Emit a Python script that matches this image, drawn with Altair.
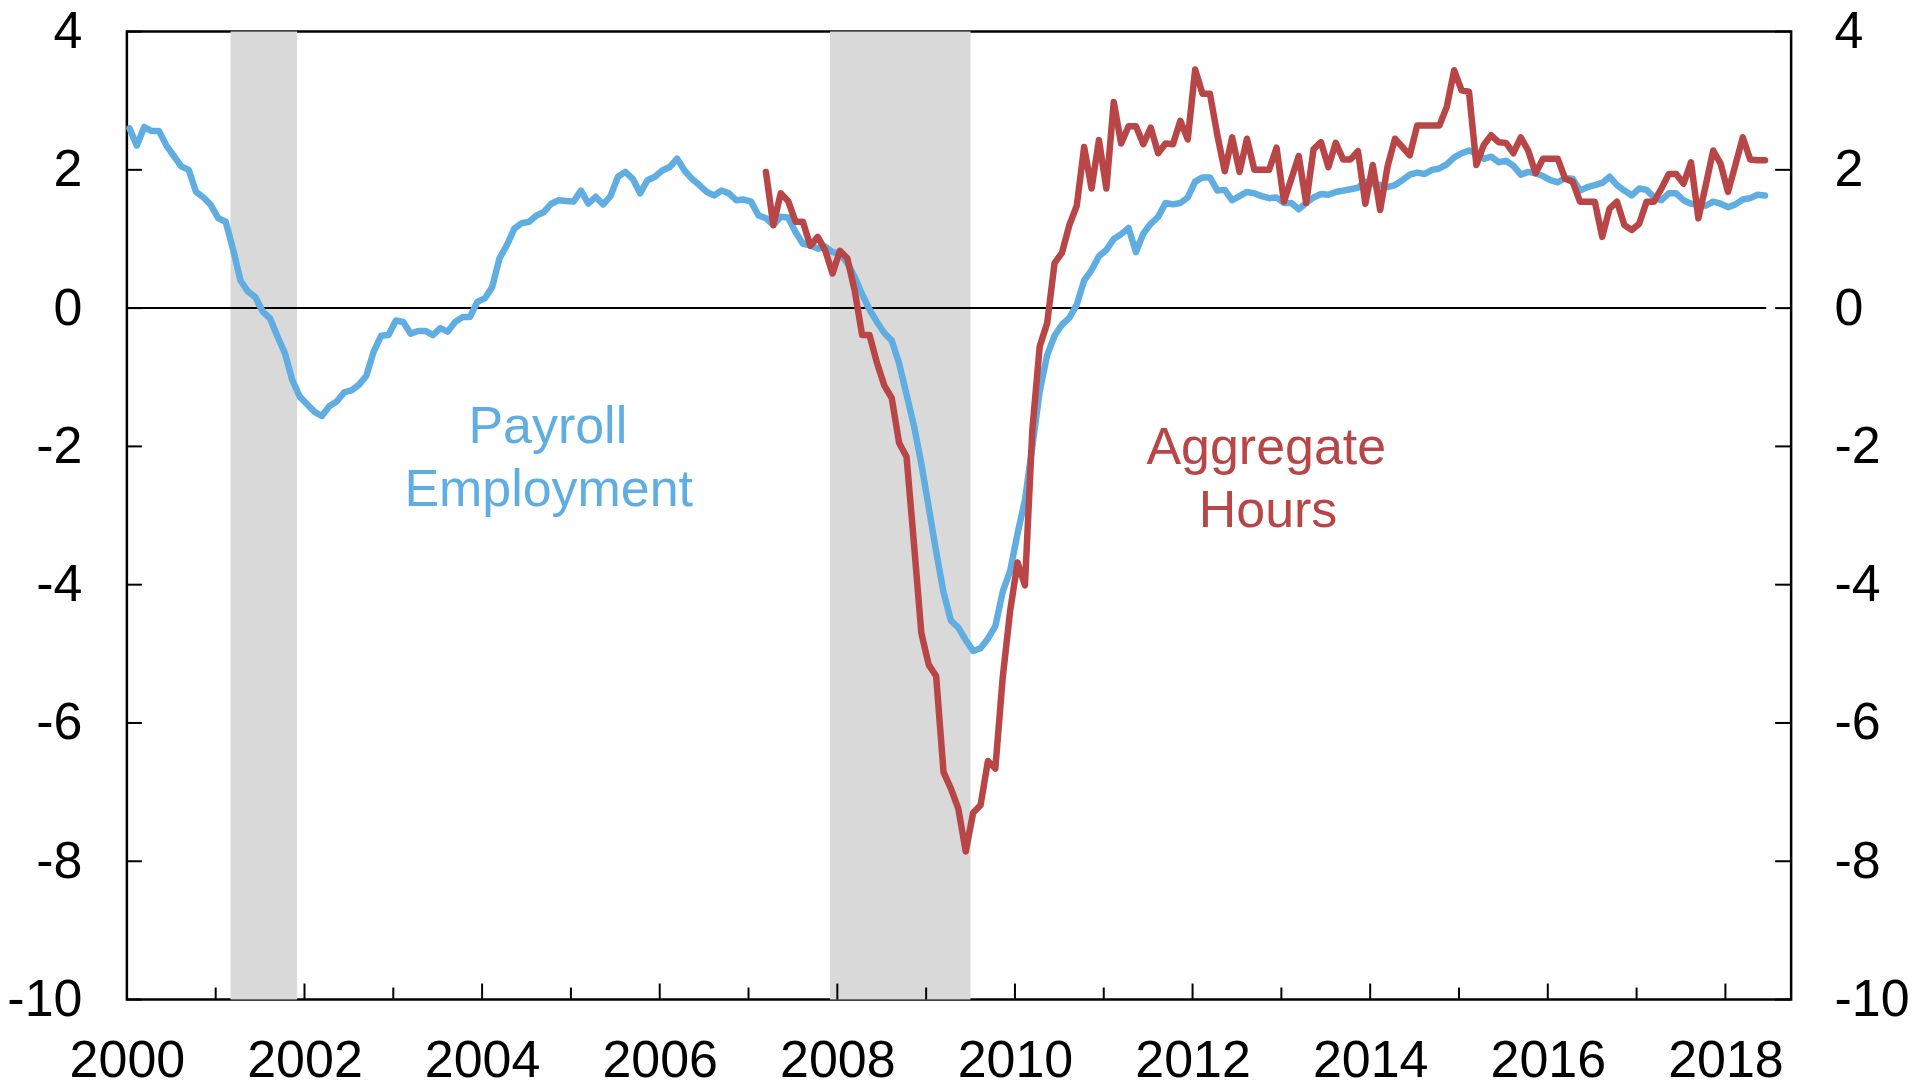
import altair as alt
import pandas as pd

# Payroll employment, 12-month % change, monthly Jan 2000 - Jun 2018
payroll = [
    2.6, 2.35, 2.62, 2.56, 2.56, 2.35, 2.2, 2.05, 2.0, 1.68, 1.6, 1.49,
    1.3, 1.25, 0.85, 0.4, 0.24, 0.16, -0.05, -0.15, -0.41, -0.65, -1.04, -1.28,
    -1.39, -1.5, -1.56, -1.42, -1.35, -1.22, -1.19, -1.11, -0.98, -0.63, -0.4, -0.39,
    -0.18, -0.2, -0.37, -0.33, -0.33, -0.39, -0.29, -0.34, -0.2, -0.13, -0.13, 0.09,
    0.14, 0.3, 0.72, 0.91, 1.15, 1.23, 1.25, 1.34, 1.39, 1.51, 1.56, 1.55,
    1.54, 1.7, 1.51, 1.61, 1.5, 1.62, 1.9, 1.97, 1.87, 1.66, 1.85, 1.9,
    1.99, 2.04, 2.16, 1.99, 1.87, 1.78, 1.68, 1.63, 1.7, 1.66, 1.56, 1.57,
    1.54, 1.34, 1.3, 1.2, 1.32, 1.31, 1.1, 0.93, 0.91, 0.86, 0.89, 0.81,
    0.79, 0.65, 0.45, 0.2, -0.02, -0.2, -0.36, -0.47, -0.8, -1.25, -1.7, -2.25,
    -2.88, -3.52, -4.11, -4.52, -4.62, -4.8, -4.96, -4.92, -4.78, -4.6, -4.1, -3.8,
    -3.26, -2.78, -2.0, -1.2, -0.68, -0.4, -0.24, -0.14, 0.05, 0.4, 0.55, 0.75,
    0.84, 1.0, 1.07, 1.16, 0.81, 1.08, 1.22, 1.32, 1.52, 1.5, 1.52, 1.6,
    1.83, 1.89, 1.89, 1.7, 1.71, 1.56, 1.62, 1.68, 1.66, 1.62, 1.59, 1.6,
    1.52, 1.52, 1.43, 1.52, 1.6, 1.65, 1.64, 1.68, 1.7, 1.72, 1.74, 1.83,
    1.8, 1.78, 1.75, 1.78, 1.85, 1.93, 1.96, 1.94, 2.0, 2.02, 2.08, 2.18,
    2.24, 2.28, 2.24, 2.16, 2.19, 2.11, 2.13, 2.06, 1.93, 1.97, 1.95, 1.91,
    1.85, 1.82, 1.88, 1.87, 1.7, 1.75, 1.78, 1.81, 1.9, 1.78, 1.7, 1.63,
    1.73, 1.71, 1.6, 1.56, 1.66, 1.66, 1.56, 1.51, 1.5, 1.48, 1.54, 1.51,
    1.46, 1.5, 1.57, 1.59, 1.64, 1.63,
]

# Aggregate hours, 12-month % change, monthly Mar 2007 - Jun 2018
hours = [
    1.97, 1.2, 1.66, 1.55, 1.25, 1.25, 0.9, 1.03, 0.84, 0.5,
    0.83, 0.72, 0.25, -0.39, -0.39, -0.79, -1.12, -1.3, -1.95, -2.15, -3.4, -4.7,
    -5.16, -5.32, -6.71, -6.95, -7.24, -7.86, -7.3, -7.19, -6.55, -6.66, -5.34, -4.38,
    -3.68, -4.01, -1.76, -0.55, -0.22, 0.65, 0.8, 1.2, 1.48, 2.33, 1.73, 2.43,
    1.73, 2.98, 2.38, 2.63, 2.63, 2.37, 2.61, 2.24, 2.38, 2.37, 2.71, 2.44,
    3.45, 3.1, 3.1, 2.5, 1.98, 2.47, 1.97, 2.45, 2.0, 2.0, 2.0, 2.32,
    1.54, 1.87, 2.2, 1.52, 2.3, 2.4, 2.04, 2.39, 2.15, 2.15, 2.27, 1.51,
    2.07, 1.42, 2.05, 2.45, 2.33, 2.21, 2.64, 2.64, 2.64, 2.64, 2.91, 3.44,
    3.15, 3.13, 2.07, 2.36, 2.5, 2.4, 2.39, 2.24, 2.47, 2.28, 1.95, 2.16,
    2.16, 2.16, 1.87, 1.83, 1.54, 1.54, 1.54, 1.03, 1.44, 1.54, 1.2, 1.13,
    1.22, 1.54, 1.54, 1.73, 1.94, 1.94, 1.8, 2.11, 1.3, 1.78, 2.28, 2.09,
    1.68, 2.07, 2.47, 2.15, 2.14, 2.14,
]

recession_start = [2001.167, 2007.917]
recession_end = [2001.917, 2009.5]

year_ticks_even = [2002, 2004, 2006, 2008, 2010, 2012, 2014, 2016, 2018]
year_ticks_odd = [2001, 2003, 2005, 2007, 2009, 2011, 2013, 2015, 2017]
x_labels = [2000, 2002, 2004, 2006, 2008, 2010, 2012, 2014, 2016, 2018]
y_labels = [-10, -8, -6, -4, -2, 0, 2, 4]

label_text = ["Payroll", "Employment", "Aggregate", "Hours"]
label_x = [2004.74, 2004.75, 2012.83, 2012.85]
label_y = [-1.95, -2.86, -2.25, -3.16]
label_series = ["payroll", "payroll", "hours", "hours"]

zero_x = [2000.0]
zero_x2 = [2018.46]

W, H = 1666, 969
FONT = "Liberation Sans"
BLUE = "#60AEE1"
RED = "#B94646"
FS = 52
LW = 6.5

pay_df = pd.DataFrame({"x": [2000 + (i + 0.35) / 12 for i in range(len(payroll))], "v": payroll})
hrs_df = pd.DataFrame({"x": [2007 + (2 + i + 0.35) / 12 for i in range(len(hours))], "v": hours})
rec_df = pd.DataFrame({"x": recession_start, "x2": recession_end})
even_df = pd.DataFrame({"x": year_ticks_even})
odd_df = pd.DataFrame({"x": year_ticks_odd})
ytick_df = pd.DataFrame({"y": y_labels})
zero_df = pd.DataFrame({"x": zero_x, "x2": zero_x2, "y": [0]})
lab_df = pd.DataFrame({"t": label_text, "x": label_x, "y": label_y, "s": label_series})

xscale = alt.Scale(domain=[2000, 2018.74], nice=False, zero=False)
yscale = alt.Scale(domain=[-10, 4], nice=False, zero=False)

x_axis = alt.Axis(values=x_labels, format="d", ticks=False, domain=False, grid=False,
                  labelFontSize=FS, labelFont=FONT, labelColor="black", labelPadding=36,
                  labelFlush=False, labelOverlap=False, title=None)

NEG = "datum.value < 0 ? '-' + format(-datum.value, 'd') : format(datum.value, 'd')"


def yaxis(orient, pad):
    return alt.Axis(orient=orient, values=y_labels, ticks=False, domain=False, grid=False,
                    labelFontSize=FS, labelFont=FONT, labelColor="black", labelPadding=pad,
                    labelOverlap=False, labelExpr=NEG, title=None)


def X(field="x"):
    return alt.X(f"{field}:Q", scale=xscale, axis=x_axis)


shade = alt.Chart(rec_df).mark_rect(color="#D9D9D9").encode(x=X(), x2="x2:Q")

zero = alt.Chart(zero_df).mark_rule(color="black", strokeWidth=2).encode(
    x=X(), x2="x2:Q", y=alt.Y("y:Q", scale=yscale, axis=None),
)

tick_even = alt.Chart(even_df).mark_rule(color="black", strokeWidth=2).encode(
    x=X(), y=alt.value(H), y2=alt.value(H - 16)
)
tick_odd = alt.Chart(odd_df).mark_rule(color="black", strokeWidth=2).encode(
    x=X(), y=alt.value(H), y2=alt.value(H - 12)
)
tick_left = alt.Chart(ytick_df).mark_rule(color="black", strokeWidth=2).encode(
    y=alt.Y("y:Q", scale=yscale, axis=None), x=alt.value(0), x2=alt.value(15)
)
tick_right = alt.Chart(ytick_df).mark_rule(color="black", strokeWidth=2).encode(
    y=alt.Y("y:Q", scale=yscale, axis=None), x=alt.value(W - 16), x2=alt.value(W)
)

blue = alt.Chart(pay_df).mark_line(color=BLUE, strokeWidth=LW, strokeJoin="round", strokeCap="round").encode(
    x=X(), y=alt.Y("v:Q", scale=yscale, axis=yaxis("left", 45)),
)
red = alt.Chart(hrs_df).mark_line(color=RED, strokeWidth=LW, strokeJoin="round", strokeCap="round").encode(
    x=X(), y=alt.Y("v:Q", scale=yscale, axis=yaxis("right", 43)),
)

labels = alt.Chart(lab_df).mark_text(align="center", baseline="alphabetic", fontSize=FS, font=FONT).encode(
    x=X(),
    y=alt.Y("y:Q", scale=yscale, axis=None),
    text="t:N",
    color=alt.Color("s:N", scale=alt.Scale(domain=["payroll", "hours"], range=[BLUE, RED]), legend=None),
)

chart = alt.layer(
    shade, tick_even, tick_odd, tick_left, tick_right, zero, blue, red, labels
).resolve_scale(y="independent").properties(
    width=W, height=H,
    autosize=alt.AutoSizeParams(type="none"),
    padding={"left": 119, "top": 23, "right": 118, "bottom": 95},
    background="white",
).configure_view(stroke="black", strokeWidth=2.5)

chart.save("out.html", embed_options={"renderer": "svg", "actions": False})
